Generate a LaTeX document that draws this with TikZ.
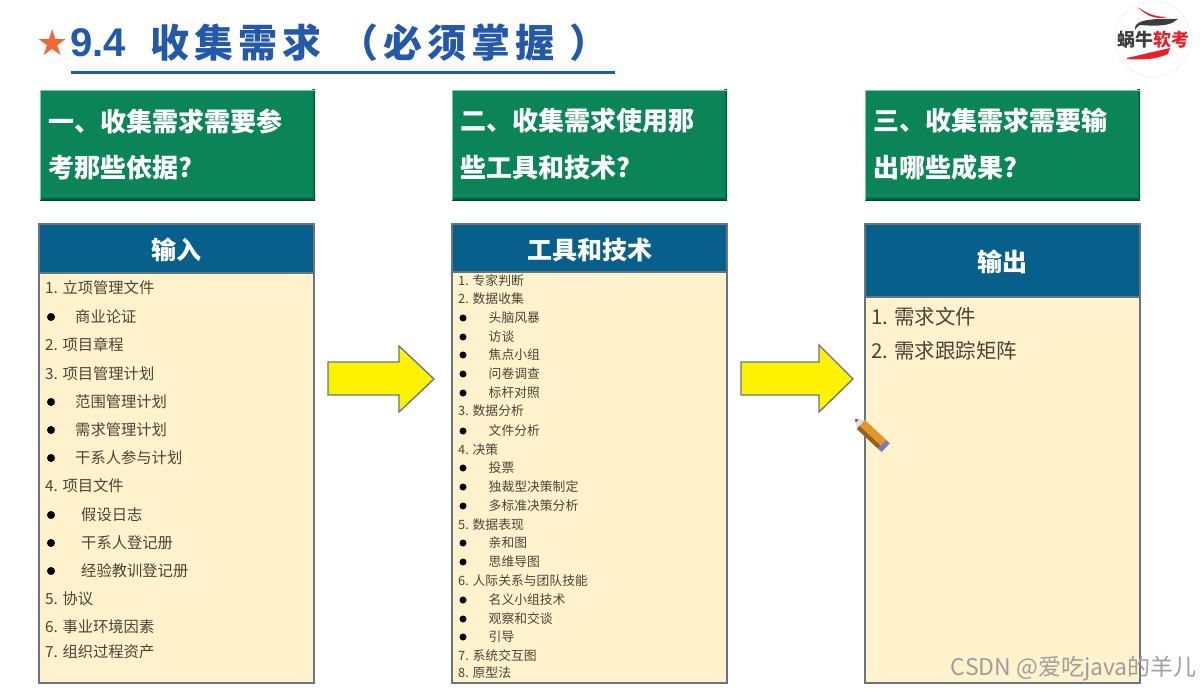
\documentclass[tikz,border=0pt]{standalone}
\usepackage{fontspec}
\setmainfont{Noto Sans CJK SC}
\newfontfamily\latinf{Liberation Sans}
\newfontfamily\symf{DejaVu Sans}
\newfontfamily\ttlf[LetterSpace=13]{Noto Sans CJK SC}
\definecolor{gbox}{HTML}{0B8458}
\definecolor{gdark}{HTML}{07482F}
\definecolor{gline}{HTML}{7FC8B0}
\definecolor{bbox}{HTML}{075F8C}
\definecolor{cream}{HTML}{FFF2CC}
\definecolor{edgeg}{HTML}{66757F}
\definecolor{txt}{HTML}{4A4436}
\definecolor{ttl}{HTML}{2458A8}
\definecolor{starc}{HTML}{F0673A}
\definecolor{pencil}{HTML}{E0962A}
\definecolor{logor}{HTML}{E8202A}
\definecolor{logok}{HTML}{3C3C3C}
\tikzset{
 x=1pt,y=-1pt,
 qtext/.style={anchor=west,inner sep=0pt,text=white,font=\fontsize{26}{26}\selectfont\bfseries},
 panel/.style={fill=cream,draw=edgeg,line width=1.2pt},
 phead/.style={fill=bbox,draw=edgeg,line width=1.2pt},
 htext/.style={inner sep=0pt,text=white,font=\fontsize{25}{25}\selectfont\bfseries},
 ltext/.style={anchor=west,inner sep=0pt,text=txt,font=\fontsize{15.3}{16}\selectfont},
 mtext/.style={anchor=west,inner sep=0pt,text=txt,font=\fontsize{12.8}{13}\selectfont},
 rtext/.style={anchor=west,inner sep=0pt,text=txt,font=\fontsize{20.5}{21}\selectfont},
 ldot/.style={circle,fill=black,inner sep=0pt,minimum size=8pt},
 mdot/.style={circle,fill=black,inner sep=0pt,minimum size=7pt},
 blockarrow/.style={fill=yellow,draw=edgeg,line width=1.3pt,line join=miter},
}
\newcommand{\qpanel}[2]{%
 \fill[gbox] (#1,90) rectangle (#1+275,200);
 \shade[top color=gbox,bottom color=gdark] (#1,196) rectangle (#1+275,200);
 \shade[left color=gbox,right color=gdark] (#1+272,90) rectangle (#1+275,197);
 \fill[gline] (#1-.3,89.7) rectangle (#1+275,90.3);
 \fill[gline] (#1-.3,89.7) rectangle (#1+.3,200);
 \node[qtext] (q#2a) at (#1+8,121) {\csname qa#2\endcsname};
 \node[qtext] (q#2b) at (#1+8,168) {\csname qb#2\endcsname};
}
\newcommand{\qaone}{一、收集需求需要参}
\newcommand{\qbone}{考那些依据?}
\newcommand{\qatwo}{二、收集需求使用那}
\newcommand{\qbtwo}{些工具和技术?}
\newcommand{\qathree}{三、收集需求需要输}
\newcommand{\qbthree}{出哪些成果?}
\begin{document}
\begin{tikzpicture}
\useasboundingbox (0,0) rectangle (1200,690);
\fill[white] (0,0) rectangle (1200,690);
% title
\node[text=starc,inner sep=0pt,font=\symf\fontsize{36}{36}\selectfont] (ttlstar) at (53,43) {★};
\node[anchor=west,inner sep=0pt,text=ttl,font=\latinf\bfseries\fontsize{40}{40}\selectfont] (ttlnum) at (70,43) {9.4};
\node[anchor=west,inner sep=0pt,text=ttl,font=\ttlf\bfseries\fontsize{39}{39}\selectfont] (ttlcn) at (150,43) {收集需求\hspace{18pt}（必须掌握\hspace{15pt}）};
\fill[ttl] (71,71.5) rectangle (615,74);
% questions
\qpanel{40}{one}
\qpanel{452}{two}
\qpanel{865}{three}
% panels
\fill[panel] (39,224) rectangle (314,683);
\fill[phead] (39,224) rectangle (314,273);
\node[htext] (h1) at (176.5,250) {输入};
\fill[panel] (452,224) rectangle (727,683);
\fill[phead] (452,224) rectangle (727,272);
\node[htext] (h2) at (589.5,250) {工具和技术};
\fill[panel] (865,224) rectangle (1140,683);
\fill[phead] (865,224) rectangle (1140,297);
\node[htext] (h3) at (1002.5,262) {输出};
% left list
\foreach \n/\yy/\t in {a/288/1. 立项管理文件,b/345/2. 项目章程,c/374/3. 项目管理计划,d/486/4. 项目文件,e/599/5. 协议,f/627/6. 事业环境因素,g/652/7. 组织过程资产}
  \node[ltext] (l\n) at (45,\yy) {\t};
\foreach \n/\xx/\yy/\t in {a/75/317/商业论证,b/75/402/范围管理计划,c/75/430/需求管理计划,d/75/458/干系人参与计划,e/81/515/假设日志,f/81/543/干系人登记册,g/81/571/经验教训登记册}{
  \node[ldot] (ld\n) at (51,\yy) {};
  \node[ltext] (ls\n) at (\xx,\yy) {\t};
}
% middle list
\foreach \n/\yy/\t in {a/281/1. 专家判断,b/299/2. 数据收集,c/411/3. 数据分析,d/450/4. 决策,e/525/5. 数据表现,f/581/6. 人际关系与团队技能,g/656/7. 系统交互图,h/673/8. 原型法}
  \node[mtext] (m\n) at (458,\yy) {\t};
\foreach \n/\yy/\t in {a/318/头脑风暴,b/337/访谈,c/355/焦点小组,d/374/问卷调查,e/393/标杆对照,f/431/文件分析,g/468/投票,h/487/独裁型决策制定,i/506/多标准决策分析,j/543/亲和图,k/562/思维导图,l/600/名义小组技术,m/619/观察和交谈,n/637/引导}{
  \node[mdot] (md\n) at (463,\yy) {};
  \node[mtext] (ms\n) at (488.5,\yy) {\t};
}
% right list
\node[rtext] (r1) at (871,317) {1. 需求文件};
\node[rtext] (r2) at (871,351) {2. 需求跟踪矩阵};
% arrows
\draw[blockarrow] (328,362) -- (399,362) -- (399,346) -- (434,379) -- (399,412) -- (399,395) -- (328,395) -- cycle;
\draw[blockarrow] (741,362) -- (819,362) -- (819,345) -- (853,379) -- (819,412) -- (819,395) -- (741,395) -- cycle;
% pencil
\begin{scope}[shift={(855,419)},rotate=-43]
 \fill[black!12] (0,0) -- (8,-6) -- (8,6) -- cycle;
 \fill[pencil] (8,-6) rectangle (37,6);
 \fill[pencil!65!black] (8,2) rectangle (37,6);
 \fill[black!60] (0,0) -- (3,-2.2) -- (3,2.2) -- cycle;
 \fill[blue!30!gray!80] (37,-6) rectangle (42,6);
\end{scope}
% logo
\fill[white] (1153,39) circle (39);
\draw[white!93!black,line width=.5pt] (1153,39) circle (38);
\fill[logor] (1138,7) .. controls (1148,15) and (1158,17) .. (1168,17) .. controls (1156,20) and (1146,16) .. (1138,7) -- cycle;
\fill[logok] (1135,30) .. controls (1134,22) and (1142,18) .. (1178,19) .. controls (1172,24) and (1166,27) .. (1140,25) .. controls (1137,27) and (1136,28) .. (1135,30) -- cycle;
\fill[logor] (1127,58) -- (1170,48) -- (1168,54) .. controls (1155,60) and (1140,60) .. (1127,59) -- cycle;
\node[inner sep=0pt,anchor=east,text=logok,font=\fontsize{18}{18}\selectfont\bfseries] (logoa) at (1153.5,40) {蜗牛};
\node[inner sep=0pt,anchor=west,text=logor,font=\fontsize{18}{18}\selectfont\bfseries] (logob) at (1153.5,40) {软考};
% watermark
\node[anchor=east,inner sep=0pt,text=black!38,font=\fontsize{23}{23}\selectfont] (wm) at (1197,669) {CSDN @爱吃java的羊儿};
\end{tikzpicture}
\end{document}
